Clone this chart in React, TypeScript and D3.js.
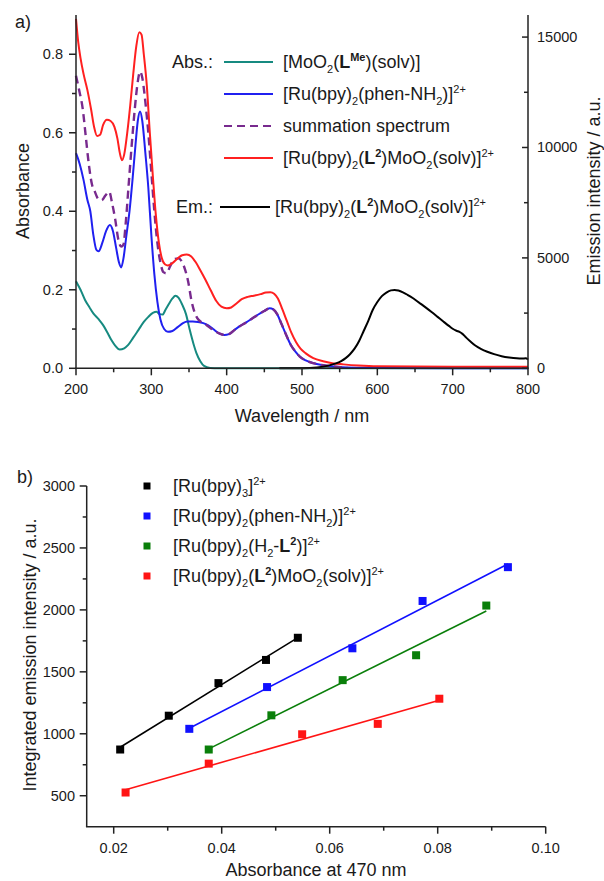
import React from "react";
import * as d3 from "d3";

// ---------- Panel a data (wavelength nm, value) ----------
const moo2Abs: [number, number][] = [
  [200,0.222],[206,0.2],[212,0.174],[218,0.155],[223,0.14],[230,0.125],[236,0.11],[242,0.09],[247,0.072],[252,0.058],
  [258,0.048],[264,0.051],[269,0.059],[276,0.078],[283,0.098],[290,0.118],[296,0.131],[302,0.141],[307,0.144],[311,0.138],
  [315,0.137],[319,0.15],[323,0.163],[328,0.178],[332,0.185],[336,0.18],[341,0.162],[346,0.138],[351,0.098],[356,0.062],
  [360,0.038],[365,0.018],[370,0.006],[378,0.001],[390,0],[450,0],[550,0],[650,0],[800,0]
];
const ruPhenAbs: [number, number][] = [
  [200,0.548],[205,0.52],[210,0.48],[215,0.43],[219,0.4],[223,0.34],[227,0.302],[230,0.298],[235,0.32],[240,0.35],
  [245,0.365],[249,0.35],[253,0.31],[257,0.27],[260,0.257],[263,0.28],[267,0.34],[271,0.4],[275,0.48],[279,0.57],
  [282,0.63],[285,0.654],[288,0.63],[292,0.55],[296,0.46],[300,0.34],[304,0.24],[308,0.17],[312,0.125],[317,0.1],
  [322,0.093],[328,0.095],[335,0.105],[342,0.115],[348,0.119],[355,0.119],[362,0.118],[369,0.115],[375,0.11],[382,0.1],
  [390,0.089],[397,0.085],[403,0.087],[410,0.097],[418,0.108],[426,0.117],[434,0.127],[442,0.137],[450,0.146],[457,0.153],
  [462,0.15],[467,0.138],[473,0.112],[479,0.085],[485,0.06],[491,0.043],[497,0.03],[505,0.02],[515,0.013],[528,0.008],
  [545,0.004],[560,0.002],[600,0.001],[700,0],[800,0]
];
const summationAbs: [number, number][] = [
  [200,0.745],[204,0.71],[209,0.66],[213,0.59],[217,0.52],[221,0.47],[225,0.45],[230,0.43],[234,0.428],[239,0.44],
  [244,0.45],[248,0.42],[252,0.38],[256,0.33],[260,0.31],[263,0.315],[266,0.37],[270,0.47],[274,0.57],[278,0.66],
  [282,0.73],[285,0.756],[288,0.74],[292,0.68],[296,0.6],[300,0.5],[304,0.4],[308,0.32],[312,0.27],[316,0.245],
  [320,0.242],[325,0.26],[330,0.278],[336,0.28],[341,0.27],[345,0.25],[349,0.22],[353,0.175],[357,0.145],[361,0.128],
  [366,0.118],[372,0.112],[380,0.1],[390,0.089],[397,0.085],[403,0.087],[410,0.097],[418,0.108],[426,0.117],[434,0.127],
  [442,0.137],[450,0.146],[457,0.153],[462,0.15],[467,0.138],[473,0.112],[479,0.085],[485,0.06],[491,0.043],[497,0.03],
  [505,0.02],[515,0.013],[528,0.008],[545,0.004],[560,0.002]
];
const complexAbs: [number, number][] = [
  [200,0.89],[203,0.83],[206,0.79],[210,0.75],[215,0.71],[220,0.66],[224,0.615],[228,0.592],[232,0.595],[236,0.62],
  [241,0.633],[246,0.63],[251,0.615],[255,0.585],[258,0.55],[261,0.53],[264,0.545],[268,0.6],[272,0.67],[276,0.75],
  [280,0.82],[284,0.856],[287,0.85],[290,0.8],[294,0.72],[298,0.6],[302,0.49],[306,0.39],[310,0.32],[314,0.28],
  [318,0.265],[322,0.262],[328,0.268],[335,0.28],[341,0.288],[347,0.29],[353,0.285],[359,0.27],[365,0.25],[372,0.225],
  [379,0.198],[386,0.172],[393,0.157],[400,0.153],[406,0.155],[413,0.165],[420,0.176],[428,0.182],[436,0.185],[445,0.189],
  [452,0.193],[458,0.194],[463,0.19],[468,0.178],[474,0.15],[480,0.12],[486,0.09],[492,0.067],[498,0.05],[505,0.038],
  [515,0.026],[528,0.018],[540,0.013],[555,0.01],[575,0.007],[600,0.005],[700,0.004],[800,0.004]
];
const complexEm: [number, number][] = [
  [470,0],[500,5],[520,40],[535,120],[545,220],[552,330],[558,460],[564,650],[570,900],[576,1250],
  [582,1700],[588,2150],[594,2650],[600,3000],[606,3270],[612,3430],[618,3530],[623,3550],[628,3520],[634,3440],
  [640,3330],[648,3160],[656,2960],[664,2760],[672,2550],[680,2330],[688,2110],[695,1920],[700,1790],[705,1700],
  [709,1650],[713,1560],[718,1390],[724,1200],[730,1030],[738,870],[746,750],[755,640],[765,550],[775,490],
  [785,450],[792,440],[797,450],[800,400]
];

const wlTicks = [200, 300, 400, 500, 600, 700, 800];
const absTicks = [0, 0.2, 0.4, 0.6, 0.8];
const emTicks = [0, 5000, 10000, 15000];

// ---------- Panel b data ----------
const ruBpy3X = [0.0212, 0.0302, 0.0394, 0.0482, 0.0541];
const ruBpy3Y = [873, 1146, 1409, 1596, 1775];
const ruPhenX = [0.034, 0.0484, 0.0642, 0.0772, 0.093];
const ruPhenY = [1040, 1377, 1690, 2072, 2345];
const ruH2LX = [0.0376, 0.0492, 0.0624, 0.076, 0.089];
const ruH2LY = [873, 1149, 1433, 1634, 2035];
const ruMoX = [0.0222, 0.0376, 0.0549, 0.0689, 0.0803];
const ruMoY = [526, 759, 996, 1080, 1283];

const absXTicks = [0.02, 0.04, 0.06, 0.08, 0.1];
const intYTicks = [500, 1000, 1500, 2000, 2500, 3000];

type Seg = { t: string; k?: "sub" | "sup"; b?: boolean };

const FONT = "'Liberation Sans', Arial, sans-serif";
const TXT = "#1a1a1a";

function Rich({ x, y, segs, size = 18 }: { x: number; y: number; segs: Seg[]; size?: number }) {
  let cur = 0;
  return (
    <text x={x} y={y} fontSize={size} fill={TXT} fontFamily={FONT}>
      {segs.map((s, i) => {
        const target = s.k === "sub" ? 5 : s.k === "sup" ? -7 : 0;
        const dy = target - cur;
        cur = target;
        return (
          <tspan key={i} dy={dy} fontSize={s.k ? 11 : size} fontWeight={s.b ? "bold" : undefined}>
            {s.t}
          </tspan>
        );
      })}
    </text>
  );
}

const lblMoO2: Seg[] = [{ t: "[MoO" }, { t: "2", k: "sub" }, { t: "(" }, { t: "L", b: true }, { t: "Me", k: "sup", b: true }, { t: ")(solv)]" }];
const lblPhen: Seg[] = [{ t: "[Ru(bpy)" }, { t: "2", k: "sub" }, { t: "(phen-NH" }, { t: "2", k: "sub" }, { t: ")]" }, { t: "2+", k: "sup" }];
const lblSum: Seg[] = [{ t: "summation spectrum" }];
const lblComplex: Seg[] = [{ t: "[Ru(bpy)" }, { t: "2", k: "sub" }, { t: "(" }, { t: "L", b: true }, { t: "2", k: "sup", b: true }, { t: ")MoO" }, { t: "2", k: "sub" }, { t: "(solv)]" }, { t: "2+", k: "sup" }];
const lblBpy3: Seg[] = [{ t: "[Ru(bpy)" }, { t: "3", k: "sub" }, { t: "]" }, { t: "2+", k: "sup" }];
const lblH2L: Seg[] = [{ t: "[Ru(bpy)" }, { t: "2", k: "sub" }, { t: "(H" }, { t: "2", k: "sub" }, { t: "-" }, { t: "L", b: true }, { t: "2", k: "sup", b: true }, { t: ")]" }, { t: "2+", k: "sup" }];

function fit(xs: number[], ys: number[]) {
  const mx = d3.mean(xs)!;
  const my = d3.mean(ys)!;
  let sxy = 0, sxx = 0;
  xs.forEach((x, i) => { sxy += (x - mx) * (ys[i] - my); sxx += (x - mx) * (x - mx); });
  const m = sxy / sxx;
  const b = my - m * mx;
  const x0 = d3.min(xs)!, x1 = d3.max(xs)!;
  return [[x0, m * x0 + b], [x1, m * x1 + b]];
}

export default function App() {
  // Panel a scales
  const xA = d3.scaleLinear().domain([200, 800]).range([76, 528]);
  const yA = d3.scaleLinear().domain([0, 0.9]).range([368.3, 15]);
  const yE = d3.scaleLinear().domain([0, 16000]).range([368.3, 15]);
  const lineA = d3.line<[number, number]>().x((d) => xA(d[0])).y((d) => yA(d[1])).curve(d3.curveMonotoneX);
  const lineE = d3.line<[number, number]>().x((d) => xA(d[0])).y((d) => yE(d[1])).curve(d3.curveMonotoneX);

  // Panel b scales
  const xB = d3.scaleLinear().domain([0.015, 0.1]).range([86.7, 545.7]);
  const yB = d3.scaleLinear().domain([250, 3000]).range([826.7, 486]);
  const lineB = d3.line<number[]>().x((d) => xB(d[0])).y((d) => yB(d[1]));

  const axisCol = "#222";
  const aBottom = yA(0);
  const bBottom = yB(250);

  const seriesB = [
    { xs: ruBpy3X, ys: ruBpy3Y, c: "#000000", lbl: lblBpy3 },
    { xs: ruPhenX, ys: ruPhenY, c: "#1010ff", lbl: lblPhen },
    { xs: ruH2LX, ys: ruH2LY, c: "#0a7f0a", lbl: lblH2L },
    { xs: ruMoX, ys: ruMoY, c: "#ff1414", lbl: lblComplex },
  ];

  const legA = [
    { segs: lblMoO2, c: "#168a80", dash: undefined as string | undefined, y: 62 },
    { segs: lblPhen, c: "#2020f0", dash: undefined, y: 94 },
    { segs: lblSum, c: "#782a8e", dash: "8,5", y: 126 },
    { segs: lblComplex, c: "#ff2020", dash: undefined, y: 158 },
  ];

  return (
    <svg width={604} height={881} style={{ position: "absolute", left: 0, top: 0, background: "#fff" }} fontFamily={FONT}>
      {/* ================= Panel a ================= */}
      <text x={15} y={28} fontSize={18} fill={TXT}>a)</text>

      {/* spectra */}
      <path d={lineA(moo2Abs)!} fill="none" stroke="#168a80" strokeWidth={2} />
      <path d={lineA(ruPhenAbs)!} fill="none" stroke="#2020f0" strokeWidth={2} />
      <path d={lineA(summationAbs)!} fill="none" stroke="#782a8e" strokeWidth={2.4} strokeDasharray="8,5" />
      <path d={lineA(complexAbs)!} fill="none" stroke="#ff2020" strokeWidth={2} />
      <path d={lineE(complexEm)!} fill="none" stroke="#000" strokeWidth={2} />

      {/* axes lines */}
      <line x1={76} x2={76} y1={15} y2={aBottom} stroke={axisCol} strokeWidth={1.5} />
      <line x1={528} x2={528} y1={15} y2={aBottom} stroke={axisCol} strokeWidth={1.5} />
      <line x1={75.25} x2={528.75} y1={aBottom} y2={aBottom} stroke={axisCol} strokeWidth={1.5} />

      {/* bottom ticks */}
      {d3.range(200, 801, 50).map((v) => (
        <line key={"xa" + v} x1={xA(v)} x2={xA(v)} y1={aBottom} y2={aBottom + (v % 100 === 0 ? 7 : 4)} stroke={axisCol} strokeWidth={1.5} />
      ))}
      {wlTicks.map((v) => (
        <text key={"xal" + v} x={xA(v)} y={aBottom + 26} fontSize={14.5} textAnchor="middle" fill={TXT}>{v}</text>
      ))}
      {/* left ticks */}
      {d3.range(0, 9).map((i) => {
        const v = i / 10;
        return <line key={"ya" + i} x1={76} x2={76 - (i % 2 === 0 ? 7 : 4)} y1={yA(v)} y2={yA(v)} stroke={axisCol} strokeWidth={1.5} />;
      })}
      {absTicks.map((v) => (
        <text key={"yal" + v} x={63} y={yA(v) + 5} fontSize={14.5} textAnchor="end" fill={TXT}>{d3.format(".1f")(v)}</text>
      ))}
      {/* right ticks (inward) */}
      {d3.range(0, 16001, 2500).map((v) => (
        <line key={"ye" + v} x1={528} x2={528 - (v % 5000 === 0 ? 6 : 4)} y1={yE(v)} y2={yE(v)} stroke={axisCol} strokeWidth={1.5} />
      ))}
      {emTicks.map((v) => (
        <text key={"yel" + v} x={537} y={yE(v) + 5} fontSize={14.5} textAnchor="start" fill={TXT}>{v}</text>
      ))}

      <text x={302} y={422} fontSize={18} textAnchor="middle" fill={TXT}>Wavelength / nm</text>
      <text transform={`translate(29,${191}) rotate(-90)`} fontSize={18} textAnchor="middle" fill={TXT}>Absorbance</text>
      <text transform={`translate(600,${191}) rotate(-90)`} fontSize={18} textAnchor="middle" fill={TXT}>Emission intensity / a.u.</text>

      {/* legend a */}
      <text x={172} y={legA[0].y + 6} fontSize={18} fill={TXT}>Abs.:</text>
      {legA.map((l, i) => (
        <g key={"la" + i}>
          <line x1={224} x2={273} y1={l.y} y2={l.y} stroke={l.c} strokeWidth={2.2} strokeDasharray={l.dash} />
          <Rich x={283} y={l.y + 6} segs={l.segs} />
        </g>
      ))}
      <text x={176} y={207 + 6} fontSize={18} fill={TXT}>Em.:</text>
      <line x1={220} x2={270} y1={207} y2={207} stroke="#000" strokeWidth={2} />
      <Rich x={275} y={207 + 6} segs={lblComplex} />

      {/* ================= Panel b ================= */}
      <text x={17} y={483} fontSize={18} fill={TXT}>b)</text>

      <line x1={86.7} x2={86.7} y1={486} y2={bBottom} stroke={axisCol} strokeWidth={1.5} />
      <line x1={85.95} x2={545.7} y1={bBottom} y2={bBottom} stroke={axisCol} strokeWidth={1.5} />

      {d3.range(2, 11).map((i) => {
        const v = i / 100;
        return <line key={"xb" + i} x1={xB(v)} x2={xB(v)} y1={bBottom} y2={bBottom + (i % 2 === 0 ? 7 : 4)} stroke={axisCol} strokeWidth={1.5} />;
      })}
      {absXTicks.map((v) => (
        <text key={"xbl" + v} x={xB(v)} y={bBottom + 26} fontSize={14.5} textAnchor="middle" fill={TXT}>{d3.format(".2f")(v)}</text>
      ))}
      {d3.range(500, 3001, 250).map((v) => (
        <line key={"yb" + v} x1={86.7} x2={86.7 - (v % 500 === 0 ? 7 : 4)} y1={yB(v)} y2={yB(v)} stroke={axisCol} strokeWidth={1.5} />
      ))}
      {intYTicks.map((v) => (
        <text key={"ybl" + v} x={75} y={yB(v) + 5} fontSize={14.5} textAnchor="end" fill={TXT}>{v}</text>
      ))}

      <text x={316} y={876} fontSize={18} textAnchor="middle" fill={TXT}>Absorbance at 470 nm</text>
      <text transform={`translate(36,${655}) rotate(-90)`} fontSize={18} textAnchor="middle" fill={TXT}>Integrated emission intensity / a.u.</text>

      {seriesB.map((s, i) => (
        <g key={"sb" + i}>
          <path d={lineB(fit(s.xs, s.ys))!} stroke={s.c} strokeWidth={1.6} fill="none" />
          {s.xs.map((x, j) => (
            <rect key={j} x={xB(x) - 4} y={yB(s.ys[j]) - 4} width={8} height={8} fill={s.c} />
          ))}
        </g>
      ))}

      {/* legend b */}
      {seriesB.map((s, i) => {
        const yy = 486 + i * 30;
        return (
          <g key={"lb" + i}>
            <rect x={143.5} y={yy - 3.5} width={7} height={7} fill={s.c} />
            <Rich x={173} y={yy + 6} segs={s.lbl} />
          </g>
        );
      })}
    </svg>
  );
}
